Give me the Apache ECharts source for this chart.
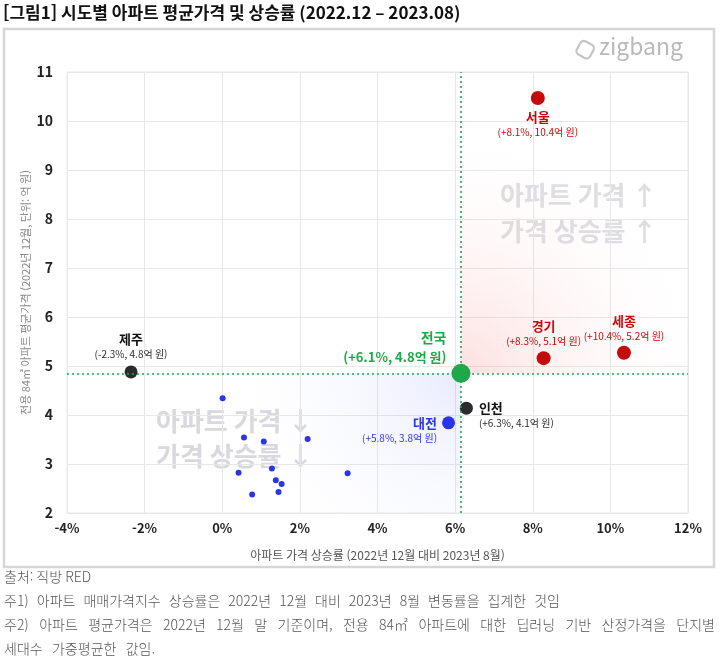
<!DOCTYPE html>
<html lang="ko">
<head>
  <meta charset="UTF-8">
  <title>시도별 아파트 평균가격 및 상승률</title>
  <script src="https://cdn.jsdelivr.net/npm/echarts@6/dist/echarts.min.js"></script>
</head>
<style>
  html, body { margin: 0; padding: 0; background: #fff; }
  #main { width: 720px; height: 662px; }
</style>
<body>
<div id="main"></div>
<script>
  // 주요 시도 (상승률 %, 평균가격 억 원)
  const regionNames = ['서울', '경기', '세종', '전국', '인천', '대전', '제주']
  const regionRates = [8.13, 8.28, 10.35, 6.15, 6.29, 5.83, -2.35]
  const regionPrices = [10.47, 5.16, 5.27, 4.85, 4.14, 3.84, 4.88]
  const regionTexts = [
    '(+8.1%, 10.4억 원)', '(+8.3%, 5.1억 원)', '(+10.4%, 5.2억 원)',
    '(+6.1%, 4.8억 원)', '(+6.3%, 4.1억 원)', '(+5.8%, 3.8억 원)', '(-2.3%, 4.8억 원)'
  ]
  // 기타 시도 (이름 없는 점)
  const otherRates = [0.01, 0.56, 1.07, 2.20, 0.42, 1.28, 3.23, 1.38, 1.53, 1.45, 0.77]
  const otherPrices = [4.34, 3.54, 3.46, 3.51, 2.82, 2.91, 2.81, 2.67, 2.59, 2.43, 2.38]

  const xTicks = { min: -4, max: 12, interval: 2 }
  const yTicks = { min: 2, max: 11, interval: 1 }

  const notes = [
    '출처: 직방 RED',
    '주1) 아파트 매매가격지수 상승률은 2022년 12월 대비 2023년 8월 변동률을 집계한 것임',
    '주2) 아파트 평균가격은 2022년 12월 말 기준이며, 전용 84㎡ 아파트에 대한 딥러닝 기반 산정가격을 단지별',
    '세대수 가중평균한 값임.'
  ]

  const FONT = '"Noto Sans CJK KR", "Noto Sans", sans-serif'
  const RED = '#c40a0a', GREEN = '#1ea84a', BLUE = '#2a36e6', DARK = '#2b2b2e'

  // 점마다 색, 크기, 라벨 위치
  const styleOf = {
    '서울': { color: RED, size: 14, pos: 'bottom', dist: 4, offset: [0, 0] },
    '경기': { color: RED, size: 14, pos: 'top', dist: 3, offset: [0, 0] },
    '세종': { color: RED, size: 14, pos: 'top', dist: 3, offset: [0, 0] },
    '전국': { color: GREEN, size: 19, pos: 'left', dist: 5, offset: [0, -26] },
    '인천': { color: DARK, size: 13, pos: 'right', dist: 6, offset: [0, 7] },
    '대전': { color: BLUE, size: 13, pos: 'left', dist: 5, offset: [0, 7] },
    '제주': { color: DARK, size: 13, pos: 'top', dist: 4, offset: [0, 0] }
  }

  const mainData = regionNames.map((name, i) => {
    const s = styleOf[name]
    const big = name === '전국'
    return {
      name: name,
      value: [regionRates[i], regionPrices[i]],
      symbolSize: s.size,
      itemStyle: { color: s.color, opacity: 1 },
      label: {
        show: true,
        position: s.pos,
        distance: s.dist,
        offset: s.offset,
        formatter: '{n|' + name + '}\n{v|' + regionTexts[i] + '}',
        rich: {
          n: { fontFamily: FONT, fontWeight: 'bold', fontSize: big ? 14 : 13, color: name === '인천' || name === '제주' ? '#111' : s.color, lineHeight: big ? 19 : 16 },
          v: { fontFamily: FONT, fontWeight: big ? 'bold' : 'normal', fontSize: big ? 13 : 10, color: s.color, lineHeight: big ? 19 : 14 }
        }
      }
    }
  })

  // 각주: 원본처럼 단어 사이를 벌려 줄 폭을 맞춤
  const ctx = document.createElement('canvas').getContext('2d')
  const noteFont = '300 14px ' + FONT
  ctx.font = noteFont
  const noteWidths = [0, 556, 711, 151]
  const noteTops = [570, 594, 618, 642]
  const noteGraphics = []
  notes.forEach((line, li) => {
    const words = line.split(' ')
    const widths = words.map(w => ctx.measureText(w).width)
    const total = widths.reduce((a, b) => a + b, 0)
    const natural = total + ctx.measureText(' ').width * (words.length - 1)
    const target = Math.max(noteWidths[li], natural)
    const gap = (target - total) / Math.max(1, words.length - 1)
    let x = 4
    words.forEach((w, wi) => {
      noteGraphics.push({ type: 'text', x: x, y: noteTops[li], style: { text: w, font: noteFont, fill: '#555' } })
      x += widths[wi] + gap
    })
  })

  const chart = echarts.init(document.getElementById('main'))
  chart.setOption({
    animation: false,
    backgroundColor: '#fff',
    grid: {
      left: 67, top: 72, width: 621, height: 441,
      show: true, borderColor: '#e8e8e8', borderWidth: 1
    },
    xAxis: {
      type: 'value',
      min: xTicks.min, max: xTicks.max, interval: xTicks.interval,
      name: '아파트 가격 상승률 (2022년 12월 대비 2023년 8월)',
      nameLocation: 'middle', nameGap: 36,
      nameTextStyle: { fontFamily: FONT, fontSize: 12, color: '#555' },
      axisLine: { show: false },
      axisTick: { show: false },
      axisLabel: { formatter: '{value}%', margin: 9, fontFamily: FONT, fontWeight: 'bold', fontSize: 13, color: '#222' },
      splitLine: { lineStyle: { color: '#e8e8e8' } }
    },
    yAxis: {
      type: 'value',
      min: yTicks.min, max: yTicks.max, interval: yTicks.interval,
      name: '전용 84㎡ 아파트 평균가격 (2022년 12월, 단위: 억 원)',
      nameLocation: 'middle', nameGap: 36, nameRotate: 90,
      nameMoveOverlap: false,
      nameTextStyle: { fontFamily: FONT, fontSize: 11, color: '#888' },
      axisLine: { show: false },
      axisTick: { show: false },
      axisLabel: { margin: 14, fontFamily: FONT, fontWeight: 'bold', fontSize: 14, color: '#222' },
      splitLine: { lineStyle: { color: '#e8e8e8' } }
    },
    graphic: [
      { type: 'rect', shape: { x: 4, y: 29, width: 710, height: 538 }, style: { fill: 'none', stroke: '#d6d6d6', lineWidth: 2.5 }, z: -1 },
      { type: 'text', left: 3, top: 4, style: { text: '[그림1] 시도별 아파트 평균가격 및 상승률 (2022.12 – 2023.08)', fontFamily: FONT, fontWeight: 'bold', fontSize: 17, fill: '#111' } },
      { type: 'rect', shape: { x: 578, y: 42, width: 15, height: 15, r: 4 }, rotation: -0.5, originX: 585, originY: 49, style: { fill: 'none', stroke: '#c4c4c4', lineWidth: 2.2 } },
      { type: 'text', left: 599, top: 35, style: { text: 'zigbang', fontFamily: FONT, fontSize: 23, fill: '#b9b9b9' } },
      { type: 'text', left: 500, top: 182, style: { text: '아파트 가격 ↑', fontFamily: FONT, fontWeight: 'bold', fontSize: 26, fill: '#dedee2' } },
      { type: 'text', left: 500, top: 218, style: { text: '가격 상승률 ↑', fontFamily: FONT, fontWeight: 'bold', fontSize: 26, fill: '#dedee2' } },
      { type: 'text', left: 156, top: 408, style: { text: '아파트 가격 ↓', fontFamily: FONT, fontWeight: 'bold', fontSize: 26, fill: '#d8d8de' } },
      { type: 'text', left: 156, top: 443, style: { text: '가격 상승률 ↓', fontFamily: FONT, fontWeight: 'bold', fontSize: 26, fill: '#d8d8de' } }
    ].concat(noteGraphics),
    series: [
      {
        name: '기타',
        type: 'scatter',
        symbolSize: 6,
        itemStyle: { color: BLUE, opacity: 1 },
        data: otherRates.map((r, i) => [r, otherPrices[i]]),
        z: 3,
        markArea: {
          silent: true,
          data: [
            [
              { coord: [regionRates[3], regionPrices[3]], itemStyle: { color: { type: 'radial', x: 0, y: 1, r: 1.15, colorStops: [
                { offset: 0, color: 'rgba(240,70,70,0.17)' }, { offset: 1, color: 'rgba(255,255,255,0)' } ] } } },
              { coord: [xTicks.max, yTicks.max] }
            ],
            [
              { coord: [xTicks.min, yTicks.min], itemStyle: { color: { type: 'radial', x: 1, y: 0, r: 1.8, colorStops: [
                { offset: 0, color: 'rgba(70,90,240,0.12)' }, { offset: 1, color: 'rgba(255,255,255,0)' } ] } } },
              { coord: [regionRates[3], regionPrices[3]] }
            ]
          ]
        }
      },
      {
        name: '시도',
        type: 'scatter',
        data: mainData,
        z: 4,
        markLine: {
          silent: true,
          symbol: 'none',
          label: { show: false },
          lineStyle: { color: GREEN, type: [2, 3], width: 1.6 },
          data: [
            { xAxis: regionRates[3] },
            { yAxis: regionPrices[3] }
          ]
        }
      }
    ]
  })
</script>
</body>
</html>
